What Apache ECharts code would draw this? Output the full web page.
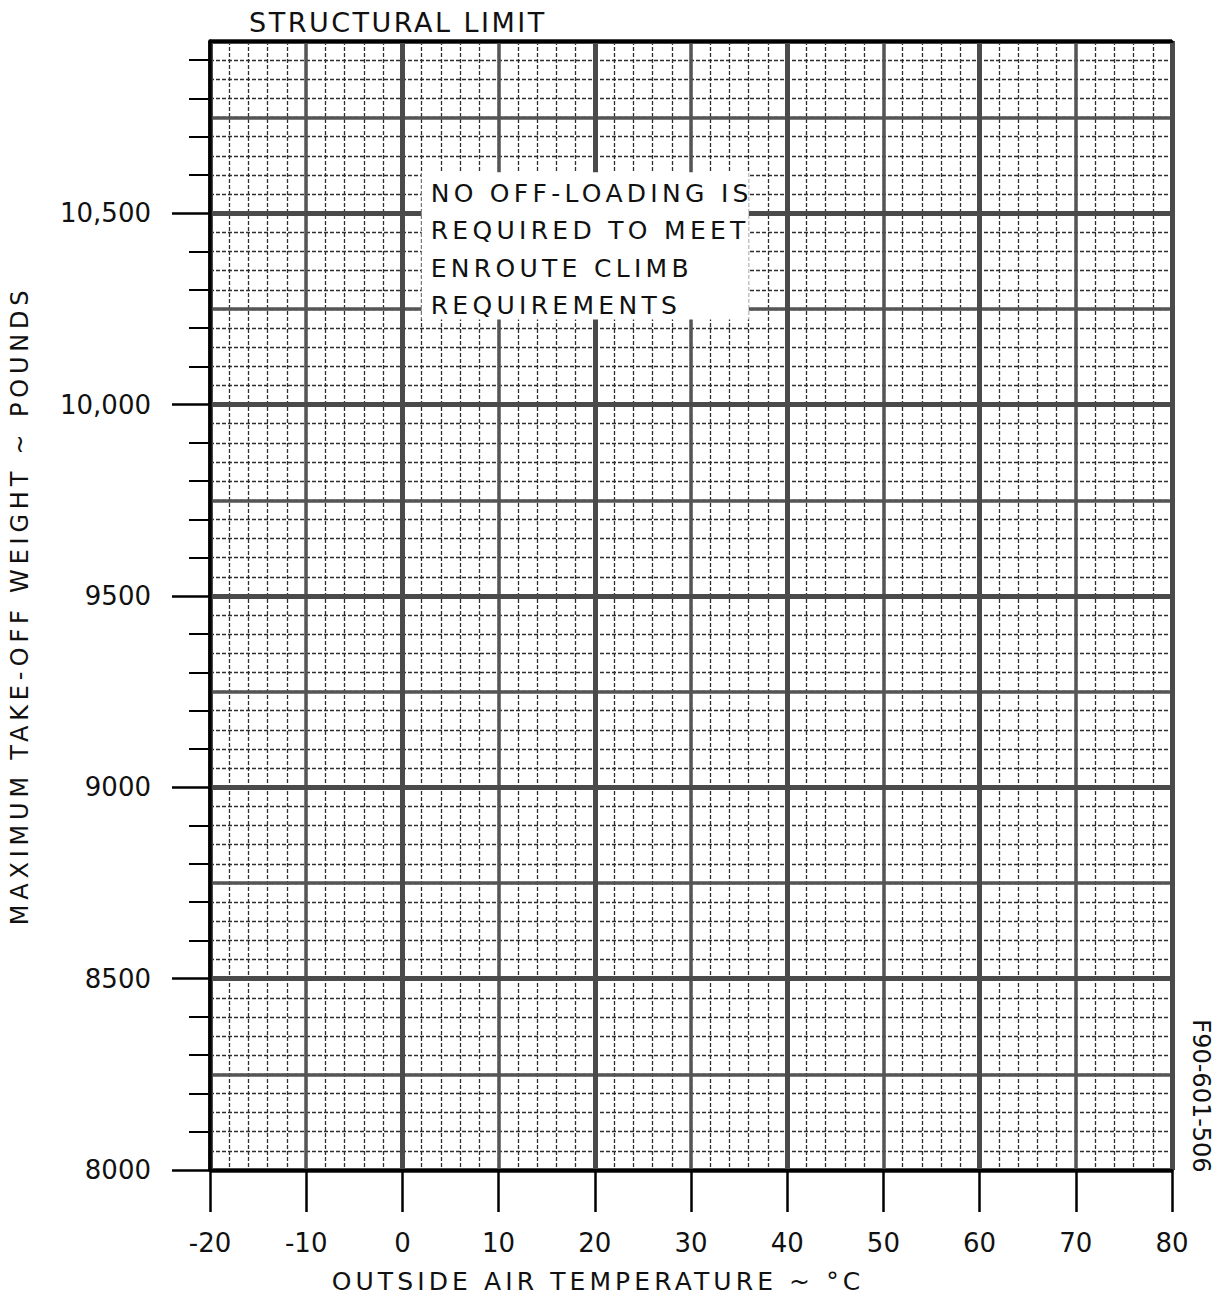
<!DOCTYPE html>
<html>
<head>
<meta charset="utf-8">
<script src="https://cdn.jsdelivr.net/npm/echarts@6/dist/echarts.min.js"></script>
<style>
html,body{margin:0;padding:0;background:#fff;}
#c{width:1224px;height:1302px;}
</style>
</head>
<body>
<div id="c"></div>
<script>
// ---- data ----
var xRange = [-20, 80];            // outside air temperature, deg C
var yRange = [8000, 10950];        // max take-off weight, lb (top = structural limit)
var yMajorTicks = [8000, 8500, 9000, 9500, 10000, 10500];
var yMajorLabels = ['8000', '8500', '9000', '9500', '10,000', '10,500'];
var yMinorTicks = [8100, 8200, 8300, 8400, 8600, 8700, 8800, 8900, 9100, 9200, 9300, 9400,
                   9600, 9700, 9800, 9900, 10100, 10200, 10300, 10400, 10600, 10700, 10800, 10900];
var noteBox = [[2, 10607], [36, 10222]];  // annotation box corners (temp, weight)
var noteLines = ['NO OFF-LOADING IS', 'REQUIRED TO MEET', 'ENROUTE CLIMB', 'REQUIREMENTS'];
var titleText = 'STRUCTURAL LIMIT';
var xName = 'OUTSIDE AIR TEMPERATURE ~ °C';
var yName = 'MAXIMUM TAKE-OFF WEIGHT ~ POUNDS';
var figId = 'F90-601-506';

var FONT = 'DejaVu Sans';
var chart = echarts.init(document.getElementById('c'), null, {renderer:'svg'});

function hiddenX(interval, style, z) {
  return {type:'value', min:xRange[0], max:xRange[1], interval:interval, position:'bottom', z:z,
    axisLine:{show:false, onZero:false}, axisTick:{show:false}, axisLabel:{show:false},
    splitLine:{show:true, lineStyle:style}};
}
function hiddenY(interval, style, z) {
  return {type:'value', min:yRange[0], max:yRange[1], interval:interval, position:'left', z:z,
    axisLine:{show:false, onZero:false}, axisTick:{show:false}, axisLabel:{show:false},
    splitLine:{show:true, lineStyle:style}};
}
var fineStyle = {color:'#2e2e2e', width:1.3, type:[4,2]};
var medStyle = {color:'#555', width:3.5};
var heavyStyle = {color:'#4a4a4a', width:5};

var labelMap = {};
yMajorTicks.forEach(function(v, i){ labelMap[v] = yMajorLabels[i]; });

var option = {
  backgroundColor:'#fff',
  animation:false,
  grid:{left:208, right:52, top:41, bottom:132, containLabel:false},
  xAxis:[
    {type:'value', min:xRange[0], max:xRange[1], interval:10, position:'bottom', z:6,
      axisLine:{show:true, onZero:false, lineStyle:{color:'#000', width:3}},
      axisTick:{show:true, length:42, lineStyle:{color:'#000', width:2.5}},
      axisLabel:{show:true, margin:60, color:'#111', fontFamily:FONT, fontSize:26},
      splitLine:{show:false}},
    hiddenX(2, fineStyle, 1),
    hiddenX(10, medStyle, 2),
    hiddenX(20, heavyStyle, 3),
    {type:'value', min:xRange[0], max:xRange[1], position:'top', z:6,
      axisLine:{show:true, onZero:false, lineStyle:{color:'#000', width:3}},
      axisTick:{show:false}, axisLabel:{show:false}, splitLine:{show:false}}
  ],
  yAxis:[
    {type:'value', min:yRange[0], max:yRange[1], position:'left', z:6,
      name:yName, nameLocation:'middle', nameGap:178,
      nameTextStyle:{fontFamily:FONT, fontSize:24, color:'#111'},
      axisLine:{show:true, onZero:false, lineStyle:{color:'#000', width:3.5}},
      axisTick:{show:true, length:38, customValues:yMajorTicks, lineStyle:{color:'#000', width:2.5}},
      axisLabel:{show:true, margin:59, color:'#111', fontFamily:FONT, fontSize:26,
        customValues:yMajorTicks,
        formatter:function(v){ return labelMap[v] || ''; }},
      splitLine:{show:false}},
    {type:'value', min:yRange[0], max:yRange[1], position:'left', z:6,
      axisLine:{show:false, onZero:false},
      axisTick:{show:true, length:21, customValues:yMinorTicks, lineStyle:{color:'#000', width:2}},
      axisLabel:{show:false}, splitLine:{show:false}},
    hiddenY(50, fineStyle, 1),
    hiddenY(250, medStyle, 2),
    hiddenY(500, heavyStyle, 3)
  ],
  series:[{
    type:'scatter', xAxisIndex:0, yAxisIndex:0, data:[], z:5,
    markArea:{
      silent:true, z:5,
      itemStyle:{color:'#fff', borderWidth:0},
      label:{show:true, position:'insideTopLeft', distance:2,
        padding:[0,0,0,7],
        fontFamily:FONT, fontSize:25, lineHeight:37.5, color:'#111',
        formatter:noteLines.join('\n')},
      data:[[{coord:noteBox[0]}, {coord:noteBox[1]}]]
    }
  }],
  graphic:[
    {type:'text', left:249, top:9, z:10,
      style:{text:titleText, font:'27px "DejaVu Sans"', fill:'#111'}},
    {type:'text', x:598, y:1281, z:10,
      style:{text:xName, font:'25px "DejaVu Sans"', fill:'#111', align:'center', verticalAlign:'middle'}},
    {type:'text', x:1201, y:1096, rotation:-Math.PI/2, z:10,
      style:{text:figId, font:'24px "DejaVu Sans"', fill:'#111', align:'center', verticalAlign:'middle'}}
  ]
};
chart.setOption(option);

// widen letter spacing of the capitalised captions to match the original lettering
var spacing = {};
spacing[titleText] = '2.5px';
spacing[xName] = '4.1px';
spacing[yName] = '4.8px';
noteLines.forEach(function(t){ spacing[t] = '4.3px'; });
function applySpacing(){
  var nodes = document.querySelectorAll('#c svg text, #c svg tspan');
  nodes.forEach(function(n){
    var t = (n.textContent || '').trim();
    if (spacing[t]) n.style.letterSpacing = spacing[t];
  });
}
applySpacing();
chart.on('finished', applySpacing);
</script>
</body>
</html>
